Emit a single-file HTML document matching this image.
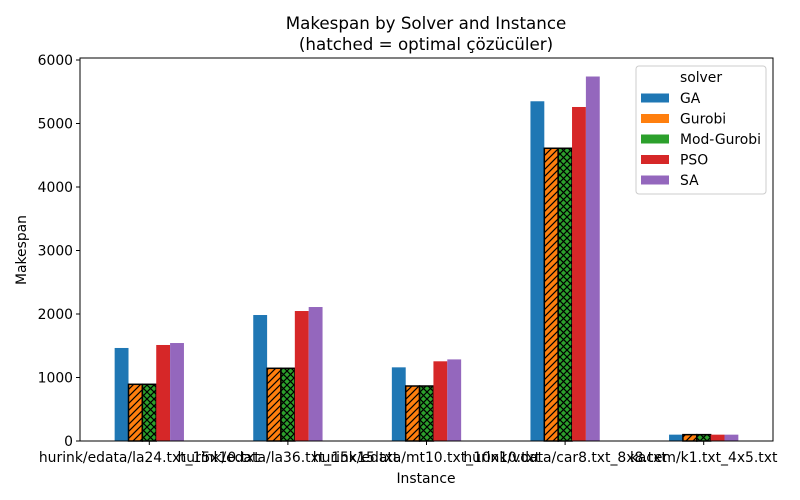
<!DOCTYPE html>
<html><head><meta charset="utf-8"><style>
body{margin:0;background:#fff}
svg{display:block;font-family:"DejaVu Sans","Liberation Sans",sans-serif}
</style></head><body>
<svg id="chart" width="800" height="500" xmlns="http://www.w3.org/2000/svg">
<defs>
<pattern id="hatchSlash" patternUnits="userSpaceOnUse" width="7" height="7">
<path d="M-1,8 L8,-1 M-1,1 L1,-1 M6,8 L8,6" stroke="#000" stroke-width="1.2"/>
</pattern>
<pattern id="hatchCross" patternUnits="userSpaceOnUse" width="7" height="7">
<path d="M0,0 L7,7 M7,0 L0,7" stroke="#000" stroke-width="1.2"/>
</pattern>
</defs>
<text x="426" y="29" text-anchor="middle" font-size="16.7">Makespan by Solver and Instance</text>
<text x="426" y="50" text-anchor="middle" font-size="16.7">(hatched = optimal çözücüler)</text>
<g id="bars"></g>
<rect x="80" y="58" width="693" height="383" fill="none" stroke="#000" stroke-width="1"/>
<g id="axes"></g>
<text x="426" y="483" text-anchor="middle" font-size="13.9">Instance</text>
<text transform="translate(26,250) rotate(-90)" text-anchor="middle" font-size="13.9">Makespan</text>
<g id="legend">
<rect x="636" y="66" width="130" height="128" rx="3" fill="#fff" fill-opacity="0.8" stroke="#ccc"/>
<text x="701" y="82" text-anchor="middle" font-size="13.9">solver</text>
</g>
</svg>
<script>
const categories=["hurink/edata/la24.txt_15x10","hurink/edata/la36.txt_15x15","hurink/edata/mt10.txt_10x10","hurink/vdata/car8.txt_8x8","kacem/k1.txt_4x5.txt"];
const displayLabels=["hurink/edata/la24.txt_15x10.txt","hurink/edata/la36.txt_15x15.txt","hurink/edata/mt10.txt_10x10.txt","hurink/vdata/car8.txt_8x8.txt","kacem/k1.txt_4x5.txt"];
const seriesNames=["GA","Gurobi","Mod-Gurobi","PSO","SA"];
const GA=[1465,1984,1160,5350,100];
const Gurobi=[893,1145,866,4610,100];
const ModGurobi=[893,1145,866,4610,100];
const PSO=[1512,2047,1255,5260,100];
const SA=[1543,2110,1285,5740,100];
const yTicks=[0,1000,2000,3000,4000,5000,6000];
const colors=["#1f77b4","#ff7f0e","#2ca02c","#d62728","#9467bd"];
const hatches=[null,"url(#hatchSlash)","url(#hatchCross)",null,null];
const series=[GA,Gurobi,ModGurobi,PSO,SA];
const NS="http://www.w3.org/2000/svg";
const x0=80,x1=773,yb=441,yt=60;
const yScale=v=>yb-(v/6000)*(yb-yt);
const band=(x1-x0)/categories.length;
const xCenter=i=>x0+band*(i+0.5);
const bw=band*0.5/seriesNames.length;
const bars=document.getElementById('bars');
const axes=document.getElementById('axes');
function mk(tag,attrs,parent){const e=document.createElementNS(NS,tag);for(const k in attrs)e.setAttribute(k,attrs[k]);parent.appendChild(e);return e;}
series.forEach((vals,s)=>{
  vals.forEach((v,i)=>{
    const x=xCenter(i)-band*0.25+s*bw;
    const y=yScale(v);
    const r=mk('rect',{x:x,y:y,width:bw,height:yb-y,fill:colors[s]},bars);
    
    
    if(hatches[s]){
      const h=mk('rect',{x:x,y:y,width:bw,height:yb-y,fill:hatches[s],stroke:"#000","stroke-width":1.5},bars);
      
      
    }
  });
});
yTicks.forEach(t=>{
  const y=yScale(t);
  const l=mk('line',{x1:x0-4,x2:x0,y1:y,y2:y,stroke:"#000"},axes);
  
  
  const tx=mk('text',{x:x0-7,y:y+5,"text-anchor":"end","font-size":13.9},axes);
  tx.textContent=t;
  
  
});
displayLabels.forEach((c,i)=>{
  const x=xCenter(i);
  const l=mk('line',{x1:x,x2:x,y1:yb,y2:yb+4,stroke:"#000"},axes);
  
  
  const tx=mk('text',{x:x,y:462,"text-anchor":"middle","font-size":13.9},axes);
  tx.textContent=c;
  
  
});
const lg=document.getElementById('legend');
seriesNames.forEach((n,s)=>{
  const y=98+s*20.5;
  const p=mk('rect',{x:641,y:y-4.5,width:28,height:9,fill:colors[s]},lg);
  
  
  const t=mk('text',{x:680,y:y+5,"font-size":13.9},lg);
  t.textContent=n;
  
  
});
</script>
</body></html>
